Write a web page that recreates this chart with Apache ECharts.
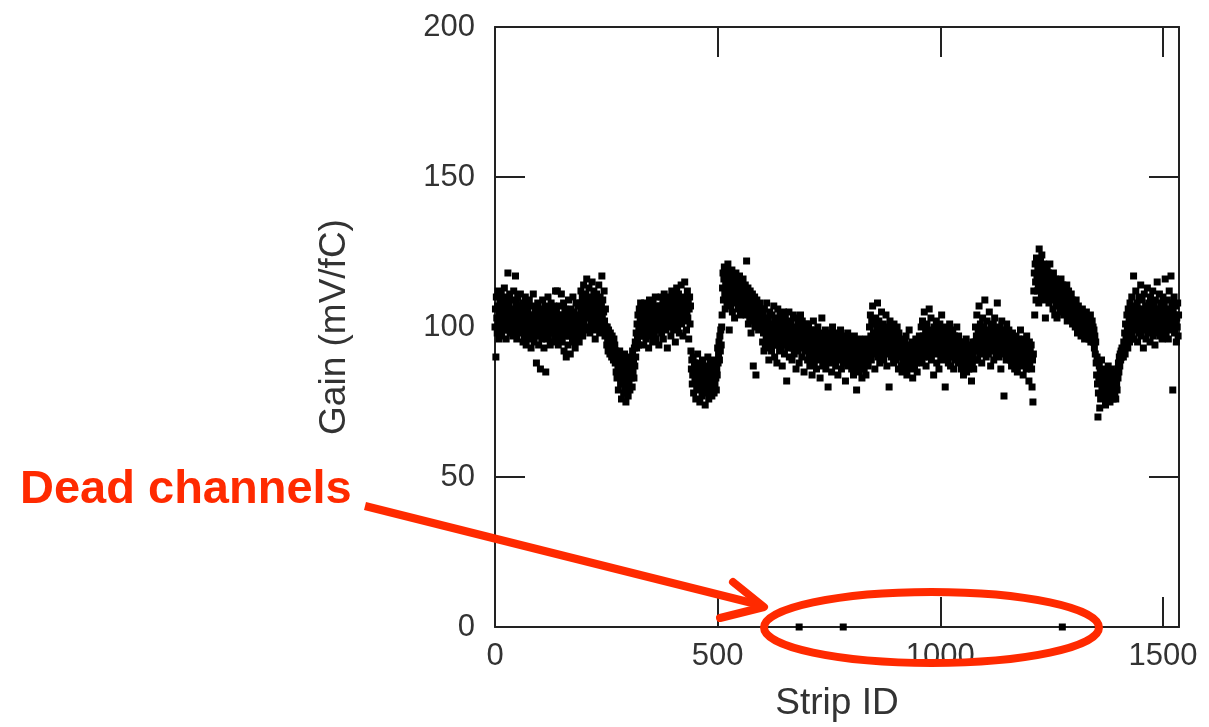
<!DOCTYPE html>
<html>
<head>
<meta charset="utf-8">
<script src="https://cdn.jsdelivr.net/npm/echarts@6/dist/echarts.min.js"></script>
<style>
  html, body { margin: 0; padding: 0; background: #fff; }
  #main { width: 1209px; height: 727px; }
</style>
</head>
<body>
<div id="main"></div>
<script>
// gain per strip, one value per strip in runs
const runStart = [0, 250, 330, 440, 510, 600, 1210, 1350, 1410];

const gainRunA = [
  100, 106, 90, 110, 103, 98, 107, 112, 101, 96, 105, 109, 99, 104, 111, 97, 103, 108, 100, 106,
  102, 113, 99, 105, 110, 96, 104, 101, 108, 118, 103, 99, 107, 111, 98, 105, 102, 109, 100, 104,
  97, 106, 112, 101, 104, 99, 117, 103, 108, 96, 102, 110, 105, 100, 107, 98, 104, 111, 101, 106,
  99, 103, 108, 95, 101, 106, 97, 104, 110, 100, 94, 102, 107, 98, 105, 101, 96, 109, 103, 99,
  104, 93, 100, 107, 102, 97, 111, 101, 95, 104, 98, 106, 100, 88, 103, 97, 108, 101, 94, 105,
  99, 102, 86, 106, 100, 96, 104, 109, 98, 101, 93, 103, 107, 99, 85, 102, 96, 105, 100, 110,
  97, 103, 99, 106, 94, 101, 108, 98, 104, 100, 95, 102, 107, 99, 103, 96, 112, 101, 105, 98,
  112, 100, 94, 104, 99, 107, 101, 96, 103, 111,
  100, 95, 104, 98, 108, 92, 101, 106, 97, 103, 90, 99, 105, 100, 94, 109, 102, 97, 104, 91,
  100, 106, 98, 103, 95, 110, 101, 97, 105, 99, 93, 102, 108, 100, 96, 104, 98, 107, 101, 95,
  103, 108, 99, 112, 105, 101, 110, 97, 106, 114, 102, 108, 104, 99, 111, 106, 116, 103, 109, 100,
  107, 113, 104, 98, 110, 105, 101, 108, 115, 103, 106, 99, 112, 104, 109, 96, 107, 102, 111, 105,
  100, 108, 103, 114, 106, 98, 110, 104, 101, 107, 117, 103, 109, 99, 105, 112, 102, 97, 106, 100
];
const gainRunB = [
  98, 94, 100, 96, 92, 99, 95, 97, 91, 98, 94, 96, 90, 97, 93, 95, 89, 96, 92, 94,
  88, 92, 85, 90, 83, 91, 87, 79, 89, 84, 92, 86, 81, 88, 76, 85, 90, 82, 87, 78,
  84, 91, 80, 86, 75, 83, 89, 81, 85, 77, 88, 82, 86, 79, 84, 90, 83, 87, 80, 92, 85, 89, 83, 93, 87,
  95, 90, 98, 93, 101, 96, 104, 94, 99, 106, 97, 102, 108, 100, 104
];
const gainRunC = [
  97, 103, 100, 106, 94, 101, 108, 99, 104, 96, 102, 107, 98, 105, 100, 93, 103, 109, 101, 97,
  104, 99, 106, 102, 95, 108, 100, 103, 98, 105, 110, 101, 96, 104, 107, 99, 102, 106, 94, 103,
  100, 107, 104, 110, 98, 105, 102, 108, 96, 103, 111, 106, 101, 109, 99, 104, 107, 93, 105, 102,
  110, 100, 106, 103, 108, 97, 104, 112, 101, 107, 105, 99, 110, 103, 106, 95, 108, 102, 113, 104,
  100, 107, 111, 105, 98, 109, 103, 106, 114, 101, 108, 104, 97, 110, 106, 102, 115, 107, 104, 109,
  99, 105, 112, 103, 108, 96, 106, 110, 101, 107
];
const gainRunD = [
  92, 86, 89, 81, 84, 90, 78, 85, 88, 82, 87, 76, 83, 80, 86, 91, 79, 84, 81, 88,
  75, 82, 86, 80, 84, 77, 89, 83, 79, 85, 81, 87, 74, 82, 86, 78, 84, 80, 90, 83,
  76, 85, 81, 88, 79, 83, 86, 77, 84, 80, 89, 82, 78, 85, 81, 87, 83, 79, 86, 84,
  93, 88, 91, 95, 89, 97, 92, 99, 94, 100
];
const gainRunE = [
  104, 113, 118, 109, 116, 120, 111, 106, 115, 119, 112, 108, 117, 121, 110, 114, 99, 118, 113, 107,
  116, 111, 119, 105, 114, 109, 117, 112, 103, 115, 110, 118, 113, 108, 116, 111, 106, 114, 109, 117,
  112, 104, 115, 110, 107, 113, 108, 116, 111, 105,
  112, 107, 114, 109, 104, 122, 111, 106, 113, 101, 108, 110, 103, 112, 107, 98, 109, 105, 111, 102,
  87, 108, 104, 110, 100, 106, 84, 103, 109, 105, 101, 107, 99, 104, 108, 102, 106, 100, 105, 103
];
const gainRunF = [
  101, 95, 104, 98, 92, 106, 99, 94, 102, 97, 108, 93, 100, 96, 103, 89, 98, 105, 95, 101,
  97, 92, 104, 99, 94, 100, 107, 96, 90, 102, 98, 95, 103, 88, 99, 106, 94, 97, 101, 92,
  104, 96, 99, 93, 102, 87, 98, 95, 105, 100, 91, 97, 103, 94, 99, 82, 96, 101, 93, 98,
  105, 90, 97, 100, 94, 102, 96, 89, 99, 93, 104, 97, 91, 100, 95, 98, 86, 103, 94, 96,
  92, 101, 97, 88, 99, 95, 104, 93, 98, 90, 102, 96, 94, 100, 85, 97, 92, 99, 95, 101,
  93, 98, 89, 95, 101, 91, 96, 87, 94, 99, 92, 97, 84, 95, 90, 102, 93, 88, 96, 91,
  99, 94, 86, 97, 92, 100, 89, 95, 91, 98, 83, 94, 96, 90, 103, 92, 87, 97, 93, 89,
  95, 91, 99, 86, 94, 97, 90, 93, 80, 96, 92, 88, 98, 94, 91, 95, 85, 93, 100, 90,
  96, 89, 94, 92, 98, 87, 95, 91, 93, 97, 84, 92, 96, 89, 94, 90, 99, 93, 86, 95,
  91, 97, 88, 94, 92, 90, 96, 82, 93, 89, 95, 91, 98, 87, 92, 94, 90, 96, 88, 93,
  90, 86, 93, 88, 95, 84, 91, 97, 87, 92, 89, 94, 79, 90, 86, 93, 88, 96, 85, 91,
  89, 94, 87, 92, 83, 90, 95, 88, 91, 86, 93, 89, 96, 84, 92, 88, 90, 94, 87, 91,
  95, 100, 92, 104, 97, 89, 102, 94, 107, 91, 98, 93, 101, 86, 96, 103, 92, 99, 95, 108,
  90, 97, 102, 94, 88, 100, 96, 93, 105, 91, 98, 95, 101, 89, 97, 93, 99, 92, 104, 96,
  87, 94, 100, 91, 97, 80, 95, 102, 93, 98, 90, 96, 92, 99, 94, 88, 101, 95, 91, 97,
  93, 89, 96, 100, 92, 95, 86, 98, 94, 91,
  90, 94, 87, 92, 85, 96, 89, 93, 88, 91, 95, 86, 90, 97, 92, 84, 89, 94, 91, 87,
  99, 90, 93, 86, 92, 88, 95, 91, 83, 89, 94, 90, 87, 93, 91, 96, 88, 92, 85, 90,
  94, 89, 92, 97, 93,
  96, 91, 100, 94, 88, 102, 93, 97, 90, 105, 95, 92, 99, 87, 94, 101, 96, 91, 98, 93,
  106, 90, 97, 95, 103, 89, 94, 99, 92, 96, 84, 100, 93, 98, 91, 95, 102, 88, 94, 97,
  92, 99, 86, 95, 101, 93, 90, 97, 104, 94, 91, 96, 89, 98, 93, 100, 80, 95, 92, 97,
  90, 94, 99, 88, 96, 92, 101, 94, 87, 97, 93, 90, 95, 99, 91, 86, 94, 97, 92, 89,
  96, 93, 100, 90, 94, 88, 97, 92, 95, 91,
  89, 93, 86, 91, 95, 88, 92, 84, 90, 94, 87, 91, 89, 96, 85, 92, 88, 90, 93, 86,
  91, 89, 94, 87, 92, 82, 90, 88, 95, 91, 86, 93, 89,
  95, 100, 92, 97, 104, 94, 89, 99, 93, 107, 96, 91, 101, 95, 98, 88, 94, 103, 97, 92,
  100, 95, 109, 93, 98, 90, 96, 102, 94, 99, 91, 97, 105, 93, 95, 87, 100, 96, 92, 98,
  94, 101, 89, 96, 103, 93, 97, 91, 99, 95, 108, 92, 98, 94, 90, 100, 96, 93, 86, 97,
  102, 94, 91, 99, 95, 77, 93, 98, 92, 96, 89, 101, 94, 97, 91, 95, 99, 92,
  92, 96, 89, 94, 87, 91, 98, 93, 88, 95, 90, 86, 94, 92, 97, 89, 91, 85, 93, 96,
  90, 88, 94, 91, 99, 87, 92, 95, 89, 93, 84, 90, 96, 91, 88, 94, 92, 86, 97, 90,
  93, 89, 91, 82, 95, 88, 92, 90, 94, 86, 80, 89, 75, 91
];
const gainRunG = [
  112, 118, 104, 121, 115, 109, 123, 117, 112, 120, 114, 108, 126, 119, 113, 122, 116, 110, 124, 118,
  111, 115, 121, 109, 117, 113, 103, 119, 114, 110, 120, 116, 112, 118, 108, 115, 121, 111, 117, 113,
  109, 115, 112, 106, 118, 110, 113, 104, 116, 111, 108, 114, 103, 112, 109, 115, 107, 111, 113, 105,
  110, 116, 108, 112, 106, 114, 109, 104, 111, 107, 113, 110, 105, 108, 114, 102, 109, 106, 112, 107,
  104, 110, 108, 103, 111, 106, 109, 101, 107, 105,
  108, 103, 106, 100, 104, 109, 101, 105, 98, 103, 107, 102, 99, 105, 101, 104, 97, 103, 100, 106,
  102, 98, 104, 100, 96, 103, 101, 99, 105, 97, 102, 100, 98, 103, 96, 101, 99, 104, 95, 100,
  98, 102, 97, 100, 95, 99, 93, 97, 91, 95
];
const gainRunH = [
  88, 84, 90, 81, 70, 78, 83, 87, 73, 85, 76, 82, 89, 79, 84, 81, 86, 77, 83, 80,
  85, 74, 82, 79, 84, 76, 81, 87, 78, 83, 80, 75, 82, 86, 79, 84, 77, 81, 76, 83,
  80, 85, 78, 82, 76, 84, 81, 79, 86, 83, 88, 85, 90, 87, 91, 89, 92, 90, 93, 91
];
const gainRunI = [
  92, 90, 95, 93, 98, 91, 101, 96, 94, 104, 99, 93, 106, 97, 102, 95, 108, 100, 96, 103,
  110, 98, 105, 101, 117, 96, 107, 103, 99, 112, 104, 100, 108, 95, 106, 102, 110, 98, 105, 101,
  114, 97, 103, 109, 100, 106, 93, 104, 111, 99, 102, 107, 96, 105, 101, 113, 98, 104, 108, 100,
  103, 95, 110, 102, 106, 99, 104, 112, 97, 101, 107, 103, 94, 109, 100, 105, 102, 115, 98, 104,
  106, 101, 111, 97, 103, 108, 100, 105, 96, 102, 110, 104, 99, 107, 101, 116, 103, 98, 106, 100,
  109, 102, 96, 105, 112, 101, 104, 99, 117, 103, 108, 100, 79, 106, 102, 110, 98, 104, 101, 107,
  95, 103, 100, 108, 97, 104
];

const deadStrips = [683, 782, 1274];
const deadGain = [0, 0, 0];

const xTicks = [0, 500, 1000, 1500];
const yTicks = [0, 50, 100, 150, 200];

const runs = [gainRunA, gainRunB, gainRunC, gainRunD, gainRunE, gainRunF, gainRunG, gainRunH, gainRunI];
const points = [];
runs.forEach((vals, r) => {
  vals.forEach((v, i) => points.push([runStart[r] + i, v]));
});
const deadPoints = deadStrips.map((s, i) => [s, deadGain[i]]);

const chart = echarts.init(document.getElementById('main'));
const font = '"Liberation Sans", Arial, Helvetica, sans-serif';
const red = '#ff2a00';
const frame = { show: true, onZero: false, lineStyle: { color: '#222', width: 2 } };
const ticks = { show: true, inside: true, length: 30, lineStyle: { color: '#222', width: 2 } };

const option = {
  animation: false,
  backgroundColor: '#fff',
  grid: { left: 495, right: 30, top: 27, bottom: 97 },
  xAxis: [
    {
      type: 'value', min: 0, max: 1536, interval: 500,
      axisLine: frame, axisTick: ticks, splitLine: { show: false },
      axisLabel: {
        color: '#333', fontSize: 31, fontFamily: font, margin: 14,
        formatter: v => (xTicks.includes(v) ? String(v) : '')
      },
      name: 'Strip ID', nameLocation: 'middle', nameGap: 58,
      nameTextStyle: { color: '#333', fontSize: 37, fontFamily: font }
    },
    {
      type: 'value', position: 'top', min: 0, max: 1536, interval: 500,
      axisLine: frame, axisTick: ticks, axisLabel: { show: false }, splitLine: { show: false }
    }
  ],
  yAxis: [
    {
      type: 'value', min: 0, max: 200, interval: 50,
      axisLine: frame, axisTick: ticks, splitLine: { show: false },
      axisLabel: {
        color: '#333', fontSize: 31, fontFamily: font, margin: 20,
        formatter: v => (yTicks.includes(v) ? String(v) : '')
      },
      name: 'Gain (mV/fC)', nameLocation: 'middle', nameGap: 142,
      nameTextStyle: { color: '#333', fontSize: 37, fontFamily: font }
    },
    {
      type: 'value', position: 'right', min: 0, max: 200, interval: 50,
      axisLine: frame, axisTick: ticks, axisLabel: { show: false }, splitLine: { show: false }
    }
  ],
  series: [
    {
      name: 'gain', type: 'scatter', symbol: 'rect', symbolSize: 7,
      itemStyle: { color: '#000', opacity: 1 }, data: points
    },
    {
      name: 'dead', type: 'scatter', symbol: 'rect', symbolSize: 7,
      itemStyle: { color: '#000', opacity: 1 }, data: deadPoints
    }
  ],
  graphic: [
    {
      type: 'text', z: 100,
      style: {
        x: 20, y: 490, text: 'Dead channels', fill: red,
        font: 'bold 47px ' + font, verticalAlign: 'middle', textVerticalAlign: 'middle'
      }
    },
    {
      type: 'line', z: 100,
      shape: { x1: 365, y1: 506, x2: 760, y2: 605 },
      style: { stroke: red, lineWidth: 8 }
    },
    {
      type: 'polyline', z: 100,
      shape: { points: [[733, 582], [764, 607], [720, 618]] },
      style: { stroke: red, lineWidth: 8, lineCap: 'round', lineJoin: 'round', fill: null }
    },
    {
      type: 'ellipse', z: 100,
      shape: { cx: 931.5, cy: 627.5, rx: 167.5, ry: 35.5 },
      style: { stroke: red, lineWidth: 8, fill: null }
    }
  ]
};

chart.setOption(option);
window.addEventListener('resize', () => chart.resize());
</script>
</body>
</html>
